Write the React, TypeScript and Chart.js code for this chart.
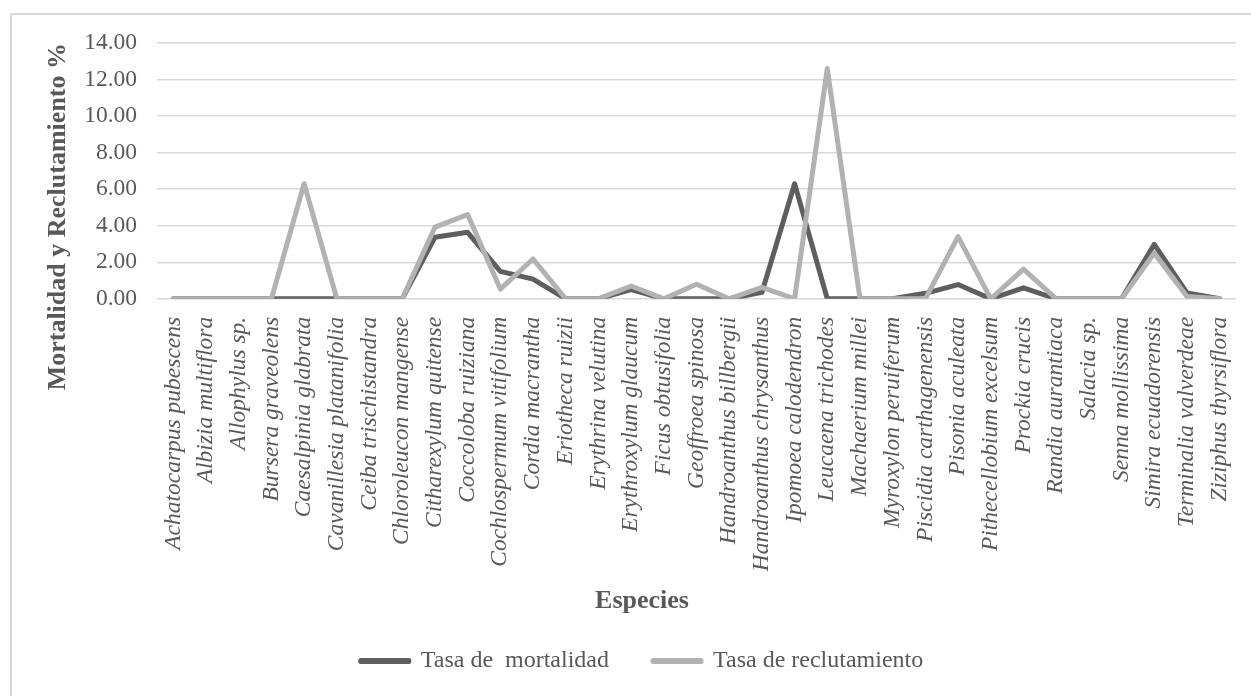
import React, { useEffect, useRef } from "react";
import { Chart, registerables } from "chart.js";

Chart.register(...registerables);

const species: string[] = [
  "Achatocarpus pubescens",
  "Albizia multiflora",
  "Allophylus sp.",
  "Bursera graveolens",
  "Caesalpinia glabrata",
  "Cavanillesia platanifolia",
  "Ceiba trischistandra",
  "Chloroleucon mangense",
  "Citharexylum quitense",
  "Coccoloba ruiziana",
  "Cochlospermum vitifolium",
  "Cordia macrantha",
  "Eriotheca ruizii",
  "Erythrina velutina",
  "Erythroxylum glaucum",
  "Ficus obtusifolia",
  "Geoffroea spinosa",
  "Handroanthus billbergii",
  "Handroanthus chrysanthus",
  "Ipomoea calodendron",
  "Leucaena trichodes",
  "Machaerium millei",
  "Myroxylon peruiferum",
  "Piscidia carthagenensis",
  "Pisonia aculeata",
  "Pithecellobium excelsum",
  "Prockia crucis",
  "Randia aurantiaca",
  "Salacia sp.",
  "Senna mollissima",
  "Simira ecuadorensis",
  "Terminalia valverdeae",
  "Ziziphus thyrsiflora",
];

const mortalidad: number[] = [
  0, 0, 0, 0, 0, 0, 0, 0, 3.37, 3.64, 1.5, 1.08, 0, 0, 0.5, 0, 0, 0, 0.35,
  6.3, 0, 0, 0, 0.3, 0.78, 0, 0.6, 0, 0, 0, 2.98, 0.32, 0,
];

const reclutamiento: number[] = [
  0, 0, 0, 0, 6.3, 0, 0, 0, 3.92, 4.61, 0.53, 2.18, 0, 0, 0.7, 0, 0.8, 0, 0.62,
  0, 12.6, 0, 0, 0, 3.4, 0, 1.62, 0, 0, 0, 2.5, 0.13, 0,
];

const seriesNames: string[] = ["Tasa de  mortalidad", "Tasa de reclutamiento"];
const yMin = 0;
const yMax = 14;
const yStep = 2;

const FONT = "'Liberation Serif', 'Times New Roman', serif";
const TEXT = "#595959";
const DARK = "#5e5e5e";
const LIGHT = "#b2b2b2";
const GRID = "#d9d9d9";

export default function App() {
  const ref = useRef<HTMLCanvasElement>(null);

  useEffect(() => {
    if (!ref.current) return;
    Chart.defaults.font.family = FONT;
    const chart = new Chart(ref.current, {
      type: "line",
      data: {
        labels: species,
        datasets: [
          {
            label: seriesNames[0],
            data: mortalidad,
            borderColor: DARK,
            backgroundColor: DARK,
            borderWidth: 5,
            pointRadius: 0,
            tension: 0,
            fill: false,
            borderJoinStyle: "round",
            borderCapStyle: "round",
            order: 1,
          },
          {
            label: seriesNames[1],
            data: reclutamiento,
            borderColor: LIGHT,
            backgroundColor: LIGHT,
            borderWidth: 5,
            pointRadius: 0,
            tension: 0,
            fill: false,
            borderJoinStyle: "round",
            borderCapStyle: "round",
            order: 0,
          },
        ],
      },
      options: {
        responsive: false,
        animation: false,
        devicePixelRatio: 1,
        layout: { padding: { left: 48, right: 15, top: 43, bottom: 13 } },
        plugins: {
          legend: {
            position: "bottom",
            labels: {
              boxWidth: 48,
              boxHeight: 1,
              padding: 44,
              color: TEXT,
              font: { size: 24, family: FONT },
              sort: (a: any, b: any) => a.datasetIndex - b.datasetIndex,
            },
          },
          title: {
            display: true,
            text: "Especies",
            position: "bottom",
            weight: 500,
            padding: { top: 0, bottom: -12 },
            color: TEXT,
            font: { size: 26, weight: "bold", family: FONT },
          },
          tooltip: { enabled: false },
        },
        scales: {
          x: {
            type: "category",
            offset: true,
            grid: { display: false },
            border: { display: false },
            ticks: {
              autoSkip: false,
              minRotation: 90,
              maxRotation: 90,
              padding: 10,
              color: TEXT,
              font: { size: 23.5, style: "italic", family: FONT },
            },
            afterFit: (s: any) => {
              s.height = 287;
              s.paddingLeft = 0;
              s.paddingRight = 0;
            },
          },
          y: {
            min: yMin,
            max: yMax,
            ticks: {
              stepSize: yStep,
              padding: 20,
              color: TEXT,
              font: { size: 23.5, family: FONT },
              callback: (v: any) => Number(v).toFixed(2),
            },
            grid: { color: GRID, lineWidth: 1.5, drawTicks: false },
            border: { display: false },
            title: {
              display: true,
              text: "Mortalidad y Reclutamiento %",
              align: "end",
              padding: { top: -5, bottom: 0 },
              color: TEXT,
              font: { size: 26, weight: "bold", family: FONT },
            },
            afterFit: (s: any) => {
              s.width = 109;
              s.paddingTop = 0;
              s.paddingBottom = 0;
            },
          },
        },
      },
    } as any);
    return () => chart.destroy();
  }, []);

  return (
    <div
      style={{
        position: "fixed",
        left: 0,
        top: 0,
        width: 1251,
        height: 696,
        overflow: "hidden",
        background: "#ffffff",
      }}
    >
      <div
        style={{
          position: "absolute",
          left: 10,
          top: 13,
          width: 1300,
          height: 800,
          border: "2px solid #d9d9d9",
          boxSizing: "border-box",
        }}
      />
      <canvas
        ref={ref}
        width={1251}
        height={696}
        style={{ position: "absolute", left: 0, top: 0, width: 1251, height: 696 }}
      />
    </div>
  );
}
